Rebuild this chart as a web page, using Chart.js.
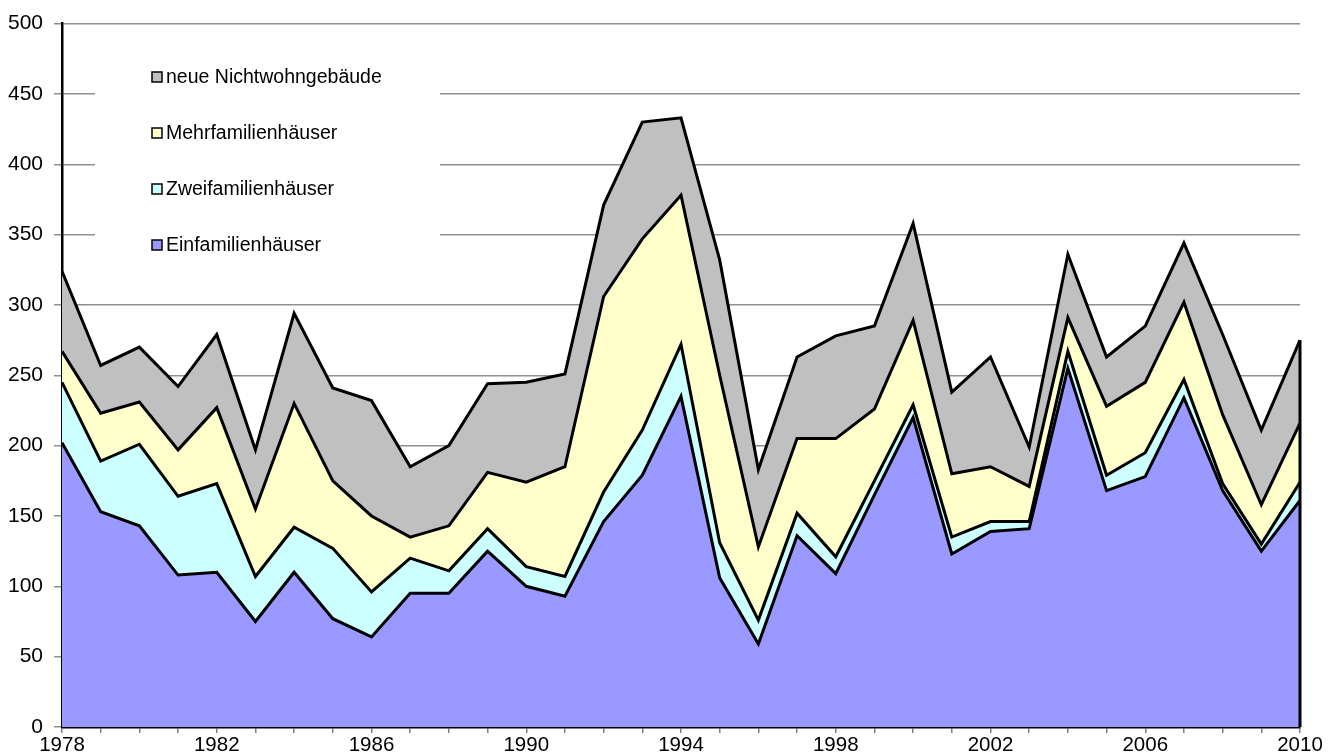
<!DOCTYPE html>
<html>
<head>
<meta charset="utf-8">
<script src="https://cdn.jsdelivr.net/npm/chart.js@4/dist/chart.umd.min.js"></script>
<style>
  html, body { margin: 0; padding: 0; background: #ffffff; }
  #wrap { width: 1341px; height: 756px; position: relative; }
</style>
</head>
<body>
<div id="wrap"><canvas id="c" width="1341" height="756"></canvas></div>
<script>
const years = [1978,1979,1980,1981,1982,1983,1984,1985,1986,1987,1988,1989,1990,1991,1992,1993,1994,1995,1996,1997,1998,1999,2000,2001,2002,2003,2004,2005,2006,2007,2008,2009,2010];
const einfamilien = [202,153,143,108,110,75,110,77,64,95,95,125,100,93,146,179,235,106,59,136,109,165,220,123,139,141,255,168,178,234,168,125,161];
const zweifamilien = [43,36,58,56,63,32,32,50,32,25,16,16,14,14,21,32,37,25,17,16,12,10,9,12,7,5,12,11,17,13,5,5,13];
const mehrfamilien = [22,34,30,33,54,48,88,48,54,15,32,40,60,78,139,136,106,119,52,53,84,51,60,45,39,25,24,49,50,55,49,28,42];
const nichtwohn = [57,34,39,45,52,42,64,66,82,50,57,63,71,66,65,83,55,82,55,58,73,59,69,58,78,28,45,35,40,42,57,53,59];
const seriesLabels = ["Einfamilienhäuser","Zweifamilienhäuser","Mehrfamilienhäuser","neue Nichtwohngebäude"];
const yMin = 0, yMax = 500, yStep = 50;
const labelEvery = 4;

const colors = ["#9999FF","#CCFFFF","#FFFFCC","#C0C0C0"];
const FONT = "Liberation Sans, Arial, sans-serif";

function ds(label, data, color, fill) {
  return {
    label: label, data: data, backgroundColor: color, borderColor: "#000000",
    borderWidth: 3, pointRadius: 0, pointHoverRadius: 0, tension: 0, fill: fill,
    borderJoinStyle: "miter"
  };
}

// Closing vertical edge at the last category (positions from the library's scales)
const edgePlugin = {
  id: "edge",
  afterDatasetsDraw(chart) {
    const x = chart.scales.x, y = chart.scales.y;
    const i = years.length - 1;
    const top = einfamilien[i] + zweifamilien[i] + mehrfamilien[i] + nichtwohn[i];
    const ctx = chart.ctx;
    ctx.save();
    ctx.strokeStyle = "#000";
    ctx.lineWidth = 3;
    ctx.beginPath();
    const px = x.getPixelForValue(i);
    ctx.moveTo(px, y.getPixelForValue(0));
    ctx.lineTo(px, y.getPixelForValue(top));
    ctx.stroke();
    ctx.restore();
  }
};

// Legend drawn inside the plot area, in reversed order
const legendPlugin = {
  id: "insideLegend",
  afterDraw(chart) {
    const ctx = chart.ctx;
    ctx.save();
    ctx.fillStyle = "#ffffff";
    ctx.fillRect(95, 45, 345, 225);
    const items = chart.data.datasets.slice().reverse();
    ctx.font = "19.5px " + FONT;
    ctx.textBaseline = "middle";
    ctx.textAlign = "left";
    items.forEach((d, k) => {
      const cy = 77 + k * 56;
      ctx.fillStyle = d.backgroundColor;
      ctx.fillRect(152, cy - 5, 10, 10);
      ctx.strokeStyle = "#000";
      ctx.lineWidth = 1.5;
      ctx.strokeRect(152, cy - 5, 10, 10);
      ctx.fillStyle = "#000";
      ctx.fillText(d.label, 166, cy + 1);
    });
    ctx.restore();
  }
};

new Chart(document.getElementById("c"), {
  type: "line",
  data: {
    labels: years.map(String),
    datasets: [
      ds(seriesLabels[0], einfamilien, colors[0], "origin"),
      ds(seriesLabels[1], zweifamilien, colors[1], "-1"),
      ds(seriesLabels[2], mehrfamilien, colors[2], "-1"),
      ds(seriesLabels[3], nichtwohn, colors[3], "-1")
    ]
  },
  options: {
    responsive: false,
    animation: false,
    events: [],
    layout: { autoPadding: false, padding: { top: 16.4, right: 41, left: 0, bottom: 0 } },
    plugins: { legend: { display: false }, tooltip: { enabled: false }, title: { display: false } },
    elements: { line: { borderCapStyle: "butt" } },
    scales: {
      x: {
        type: "category",
        offset: false,
        grid: { display: true, drawOnChartArea: false, drawTicks: true, tickLength: 6, color: "#808080", lineWidth: 1.5 },
        border: { display: true, color: "#000000", width: 2.5 },
        ticks: {
          autoSkip: false, maxRotation: 0, minRotation: 0, padding: 0, align: "center",
          color: "#000", font: { family: FONT, size: 20.5 },
          callback: function(v, i) { return (years[i] - years[0]) % labelEvery === 0 ? String(years[i]) : ""; }
        },
        afterFit(s) { s.height = 29; }
      },
      y: {
        stacked: true,
        min: yMin, max: yMax,
        grid: { color: "#8f8f8f", lineWidth: 1.5, tickLength: 8, drawTicks: true },
        border: { display: true, color: "#000000", width: 2.5 },
        ticks: { stepSize: yStep, padding: 11, color: "#000", font: { family: FONT, size: 21 } },
        afterFit(s) { s.width = 62; }
      }
    }
  },
  plugins: [edgePlugin, legendPlugin]
});
</script>
</body>
</html>
